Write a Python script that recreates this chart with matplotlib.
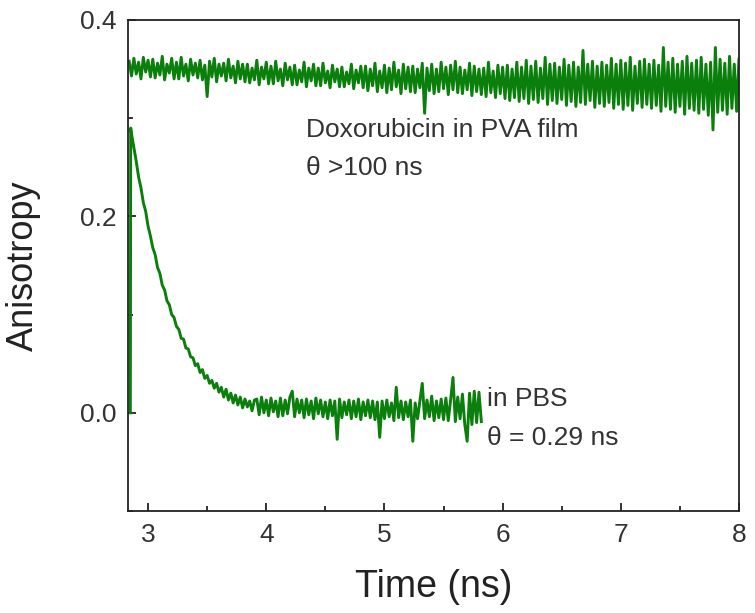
import numpy as np
import matplotlib
matplotlib.use("Agg")
import matplotlib.pyplot as plt
from matplotlib.ticker import MultipleLocator

plt.rcParams['font.family'] = ['Liberation Sans', 'DejaVu Sans']

# sampling of the traces (ns)
t_step = 0.02
pva_t0 = 2.84
pbs_t0 = 2.86

# Doxorubicin in PVA film, anisotropy x 1000
pva_milli = [
    358, 343, 361, 345, 357, 340, 362, 347, 359, 342,
    360, 341, 356, 344, 363, 339, 355, 346, 361, 340,
    357, 340, 362, 343, 355, 338, 360, 344, 356, 341,
    359, 339, 354, 322, 358, 342, 361, 337, 355, 343,
    356, 338, 360, 341, 353, 336, 358, 340, 355, 337,
    355, 336, 351, 339, 359, 334, 352, 340, 357, 335,
    353, 335, 358, 338, 350, 333, 356, 339, 352, 334,
    354, 334, 349, 337, 357, 332, 351, 338, 355, 333,
    351, 333, 356, 336, 348, 331, 354, 337, 350, 332,
    352, 332, 347, 335, 355, 330, 349, 336, 353, 331,
    353, 328, 350, 333, 356, 327, 348, 331, 354, 326,
    351, 329, 357, 332, 349, 325, 355, 330, 352, 327,
    353, 326, 350, 331, 356, 305, 351, 328, 355, 325,
    350, 327, 357, 330, 352, 324, 354, 329, 358, 326,
    352, 325, 349, 329, 356, 323, 353, 327, 350, 324,
    351, 322, 357, 326, 348, 321, 354, 325, 352, 320,
    354, 318, 350, 321, 357, 317, 352, 320, 359, 315,
    353, 319, 358, 316, 351, 320, 362, 314, 355, 318,
    356, 315, 352, 319, 360, 313, 354, 317, 357, 312,
    352, 316, 369, 314, 355, 318, 358, 311, 353, 315,
    357, 312, 354, 316, 361, 310, 355, 314, 359, 309,
    356, 313, 362, 308, 353, 315, 358, 311, 360, 314,
    355, 310, 359, 313, 354, 307, 372, 312, 357, 309,
    361, 306, 355, 312, 358, 304, 363, 310, 356, 308,
    359, 305, 362, 309, 355, 303, 357, 288, 372, 306,
    360, 308, 356, 304, 363, 310, 355, 307, 361, 309,
]

# Doxorubicin in PBS: rise edge, then decay + baseline (x 1000)
pbs_rise_t = [2.850, 2.853]
pbs_rise_milli = [0, 290]
pbs_milli = [
    284, 270, 256, 240, 229, 214, 205, 190, 180, 168,
    161, 148, 142, 130, 125, 114, 110, 100, 97, 88,
    85, 76, 75, 66, 65, 57, 56, 48, 50, 41,
    44, 35, 38, 30, 33, 25, 30, 21, 26, 16,
    24, 13, 20, 10, 18, 8, 16, 5, 14, 6,
    12, 2, 13,
    14, -2, 16, 0, 13, -3, 15, 1, 12, -4,
    15, -3, 13, -1, 16, 22, -4, 14, 0, 13,
    -5, 14, -2, 12, -6, 15, -1, 13, -4, 11,
    -6, 13, -3, 12, -27, 14, -5, 11, -2, 13,
    -6, 12, -4, 14, -7, 11, -3, 13, -5, 12,
    -7, 11, -25, 12, -6, 13, -4, 10, -8, 26,
    -5, 12, -7, 11, -4, 13, -29, 10, -6, 12,
    30, -6, 13, -4, 17, -8, 12, -5, 14, -7,
    15, -8, 13, 36, -9, 16, -6, 19, -12, -29,
    20, -12, 22, -10, 21, -9,
]

green = '#0b7f0b'
text_col = '#333333'

pva_t = pva_t0 + t_step * np.arange(len(pva_milli))
pva = np.array(pva_milli) / 1000
pbs_t = np.concatenate([pbs_rise_t, pbs_t0 + t_step * np.arange(len(pbs_milli))])
pbs = np.concatenate([pbs_rise_milli, pbs_milli]) / 1000

fig = plt.figure(figsize=(7.55, 6.13), dpi=100)
ax = fig.add_axes([0.1695, 0.1664, 0.8093, 0.801])

ax.plot(pva_t, pva, color=green, lw=2.1)
ax.plot(pbs_t, pbs, color=green, lw=2.1)

ax.set_xlim(2.83, 8)
ax.set_ylim(-0.1, 0.4)
ax.xaxis.set_major_locator(MultipleLocator(1))
ax.xaxis.set_minor_locator(MultipleLocator(0.5))
ax.yaxis.set_major_locator(MultipleLocator(0.2))
ax.yaxis.set_minor_locator(MultipleLocator(0.1))
ax.tick_params(which='both', direction='in', top=False, right=False,
               colors='#222222', labelcolor=text_col, width=1.3)
ax.tick_params(which='major', length=6, labelsize=19)
ax.tick_params(axis='x', which='major', pad=9)
ax.tick_params(axis='y', which='major', pad=8)
ax.tick_params(which='minor', length=3.5)
for s in ax.spines.values():
    s.set_linewidth(1.3)
    s.set_color('#222222')

ax.set_xlabel('Time (ns)', fontsize=27, color='#222222')
ax.set_ylabel('Anisotropy', fontsize=26, color='#222222')
ax.xaxis.set_label_coords(0.5, -0.118)
ax.yaxis.set_label_coords(-0.143, 0.5)

ax.text(4.34, 0.288, 'Doxorubicin in PVA film', fontsize=19, color=text_col,
        ha='left', va='center')
ax.text(4.34, 0.249, 'θ >100 ns', fontsize=19, color=text_col,
        ha='left', va='center')
ax.text(5.87, 0.014, 'in PBS', fontsize=19, color=text_col,
        ha='left', va='center')
ax.text(5.87, -0.026, 'θ = 0.29 ns', fontsize=19, color=text_col,
        ha='left', va='center')

fig.savefig('out.png', dpi=100)
